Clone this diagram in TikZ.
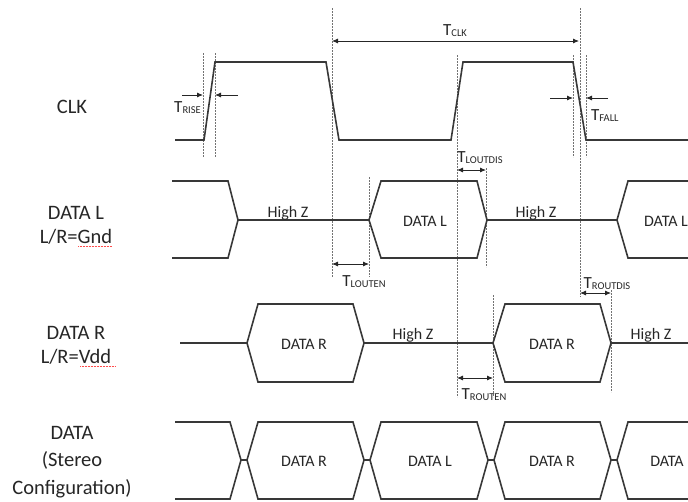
\documentclass[tikz,border=0pt]{standalone}
\usepackage{fontspec}
\setmainfont{Carlito}
\usetikzlibrary{arrows.meta}

\newcommand{\tname}[1]{T\raisebox{-1pt}{\fontsize{10.5}{11}\selectfont #1}}

\tikzset{
  wave/.style={line width=1.6pt, draw=black!78, line join=miter},
  guide/.style={line width=0.6pt, draw=black!55, dash pattern=on 1.6pt off 1.4pt},
  tip/.style={line width=0.8pt, draw=black!85, -{Latex[length=6pt,width=5pt]}},
  dim/.style={line width=0.8pt, draw=black!85, {Latex[length=6pt,width=5pt]}-{Latex[length=6pt,width=5pt]}},
  sig/.style={font=\fontsize{20.5}{24}\selectfont, text=black!85, align=center},
  lbl/.style={font=\fontsize{16}{18}\selectfont, text=black!85},
  tlbl/.style={font=\fontsize{17}{18}\selectfont, text=black!85, inner sep=0pt},
}

\begin{document}
\begin{tikzpicture}[x=1pt,y=-1pt]
\useasboundingbox (0,0) rectangle (688,501);
\begin{scope}
\clip (0,0) rectangle (688,501);

% guide lines
\foreach \x/\a/\b in {203/53/157, 215/53/157, 332/8/277, 457/55/397, 573/55/157,
                      586/55/157, 580/8/297, 369/177/277, 486/168/267, 493/295/397, 611/290/392}
  \draw[guide] (\x,\a) -- (\x,\b);

% signal names
\node[sig] (clk) at (72,107) {CLK};
\node[sig] (datal) at (76,225) {DATA L\\L/R=Gnd};
\node[sig] (datar) at (76,345) {DATA R\\L/R=Vdd};
\node[sig, font=\fontsize{20.5}{27.5}\selectfont] (data) at (72,462) {DATA\\(Stereo\\Configuration)};
\draw[red!70, line width=0.5pt, densely dotted] (78,246) -- (112,246);
\draw[red!70, line width=0.5pt, densely dotted] (80,366) -- (115,366);

% CLK
\draw[wave] (175,140) -- (204,140) -- (215,62) -- (326,62) -- (339,140) -- (451,140)
  -- (463,62) -- (573,62) -- (586,140) -- (690,140);

% DATA L
\draw[wave] (172,181) -- (228,181) -- (238,220) -- (228,258) -- (172,258);
\draw[wave] (238,220) -- (369,220) -- (381,181) -- (477,181) -- (487,220) -- (477,258)
  -- (381,258) -- (369,220);
\draw[wave] (487,220) -- (617,220);
\draw[wave] (690,181) -- (628,181) -- (617,220) -- (628,258) -- (690,258);
\node[lbl, anchor=base] (hzl1) at (288,217) {High Z};
\node[lbl] (dl1) at (425,221) {DATA L};
\node[lbl, anchor=base] (hzl2) at (536,217) {High Z};
\node[lbl] (dl2) at (666,221) {DATA L};

% DATA R
\draw[wave] (180,343) -- (247,343) -- (258,304) -- (353,304) -- (364,343) -- (493,343)
  -- (505,304) -- (600,304) -- (611,343) -- (690,343);
\draw[wave] (247,343) -- (258,382) -- (353,382) -- (364,343);
\draw[wave] (493,343) -- (505,382) -- (600,382) -- (611,343);
\node[lbl] (dr1) at (304,344) {DATA R};
\node[lbl, anchor=base] (hzr1) at (413,339) {High Z};
\node[lbl] (dr2) at (552,344) {DATA R};
\node[lbl, anchor=base] (hzr2) at (651,339) {High Z};

% DATA (stereo)
\draw[wave] (175,422) -- (230,422) -- (241,460) -- (247,460) -- (258,422) -- (353,422)
  -- (364,460) -- (370,460) -- (381,422) -- (477,422) -- (488,460) -- (494,460)
  -- (505,422) -- (600,422) -- (611,460) -- (617,460) -- (628,422) -- (690,422);
\draw[wave] (175,499) -- (230,499) -- (241,460) (247,460) -- (258,499) -- (353,499)
  -- (364,460) (370,460) -- (381,499) -- (477,499) -- (488,460) (494,460)
  -- (505,499) -- (600,499) -- (611,460) (617,460) -- (628,499) -- (690,499);
\node[lbl] (ds1) at (304,461) {DATA R};
\node[lbl] (ds2) at (430,461) {DATA L};
\node[lbl] (ds3) at (552,461) {DATA R};
\node[lbl] (ds4) at (667,461) {DATA};

% timing marks
\draw[dim] (332,41) -- (579,41);
\node[tlbl] (tclk) at (455,31) {\tname{CLK}};
\draw[tip] (182,95) -- (203,95);
\draw[tip] (238,95) -- (215,95);
\node[tlbl, anchor=east] (trise) at (201,108) {\tname{RISE}};
\draw[tip] (550,98) -- (573,98);
\draw[tip] (608,98) -- (586,98);
\node[tlbl, anchor=west] (tfall) at (591,116) {\tname{FALL}};
\draw[dim] (332,264) -- (369,264);
\node[tlbl] (tlouten) at (364,282) {\tname{LOUTEN}};
\draw[dim] (457,170) -- (486,170);
\node[tlbl] (tloutdis) at (480,158) {\tname{LOUTDIS}};
\draw[dim] (580,293) -- (611,293);
\node[tlbl] (troutdis) at (607,284) {\tname{ROUTDIS}};
\draw[dim] (457,378) -- (493,378);
\node[tlbl] (trouten) at (484,395) {\tname{ROUTEN}};
\end{scope}
\end{tikzpicture}
\end{document}
